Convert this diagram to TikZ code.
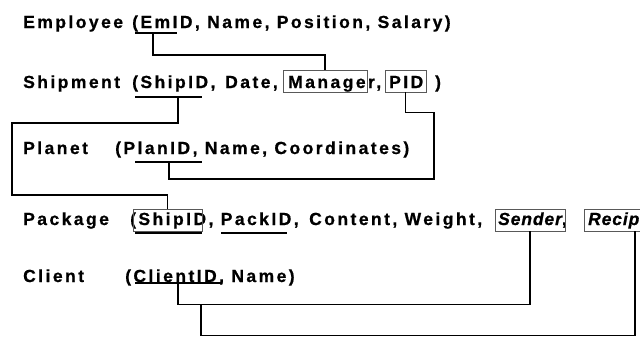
\documentclass[tikz,border=0pt]{standalone}
\usepackage{fontspec}
\setmainfont{Liberation Sans}[LetterSpace=14,
  BoldFeatures={FakeBold=0.8}, BoldItalicFeatures={FakeBold=0.8}]
\usetikzlibrary{calc}

\tikzset{
  rel/.style={anchor=base west, inner sep=0pt,
    font=\fontsize{17.5}{20}\selectfont\bfseries},
  tight/.style={rel, font=\fontsize{17.5}{20}\selectfont\bfseries\addfontfeature{LetterSpace=5}},
  keyline/.style={line width=1.8pt},
  link/.style={line width=1.8pt},
  fkbox/.style={draw=black!65, line width=0.8pt, inner sep=0pt,
    minimum height=22pt},
}

\begin{document}
\begin{tikzpicture}[x=1pt,y=-1pt]
\useasboundingbox (0,0) rectangle (640,343);
\clip (0,0) rectangle (640,343);

% relation names and attribute lists
\node[rel] (employee) at (23,28) {Employee};
\node[rel] (emplist) at (132,28) {(EmID, Name, Position, Salary)};
\node[rel] (shipment) at (23,88) {Shipment};
\node[rel] (shiplist) at (132,88) {(ShipID,};
\node[rel] (datetext) at (225,88) {Date,};
\node[rel] (mgrtext) at (288,88) {Manager,};
\node[rel] (pidtext) at (389,88) {PID};
\node[rel] (shipclose) at (435,88) {)};
\node[rel] (planet) at (23,154) {Planet};
\node[rel] (planlist) at (115,154) {(PlanID, Name, Coordinates)};
\node[rel] (package) at (23,225) {Package};
\node[rel] (packlist) at (130,225) {(ShipID, PackID,};
\node[rel] (packrest) at (309,225) {Content, Weight,};
\node[tight] (sendertext) at (498,225) {\textit{Sender},};
\node[tight] (reciptext) at (588,225) {\textit{Recip}};
\node[rel] (client) at (23,282) {Client};
\node[rel] (clientlist) at (125,282) {(ClientID, Name)};

% foreign key boxes
\node[fkbox, minimum width=84pt] (mgr) at (325,81) {};
\node[fkbox, minimum width=41pt] (pid) at (405.5,81) {};
\node[fkbox, minimum width=69pt] (pkship) at (167.5,220) {};
\node[fkbox, minimum width=70pt] (sender) at (530,220) {};
\node[fkbox, minimum width=102pt] (recip) at (635,220) {};

% primary key underlines
\draw[keyline] (135,33) -- (177,33) coordinate[pos=0.43] (emid);
\draw[keyline] (135,97) -- (202,97) coordinate[pos=0.64] (shipid);
\draw[keyline] (135,162) -- (202,162) coordinate[pos=0.51] (planid);
\draw[keyline] (135,233) -- (202,233);
\draw[keyline] (221,233) -- (287,233);
\draw[keyline] (135,283) -- (222,283) coordinate[pos=0.49] (clientid);

% references
\draw[link] (emid) -- ++(0,22) -| (mgr.north);
\draw[link] (shipid) -- ++(0,26) -| (12,195) -| (pkship.north);
\draw[link] (pid.south) -- ++(0,20) -| (434,179) -| (planid);
\draw[link] (sender.south) -- ++(0,73) -| (clientid);
\coordinate (clientjoin) at (201,304);
\draw[link] (recip.south) -- ++(0,104) -| (clientjoin);
\end{tikzpicture}
\end{document}
